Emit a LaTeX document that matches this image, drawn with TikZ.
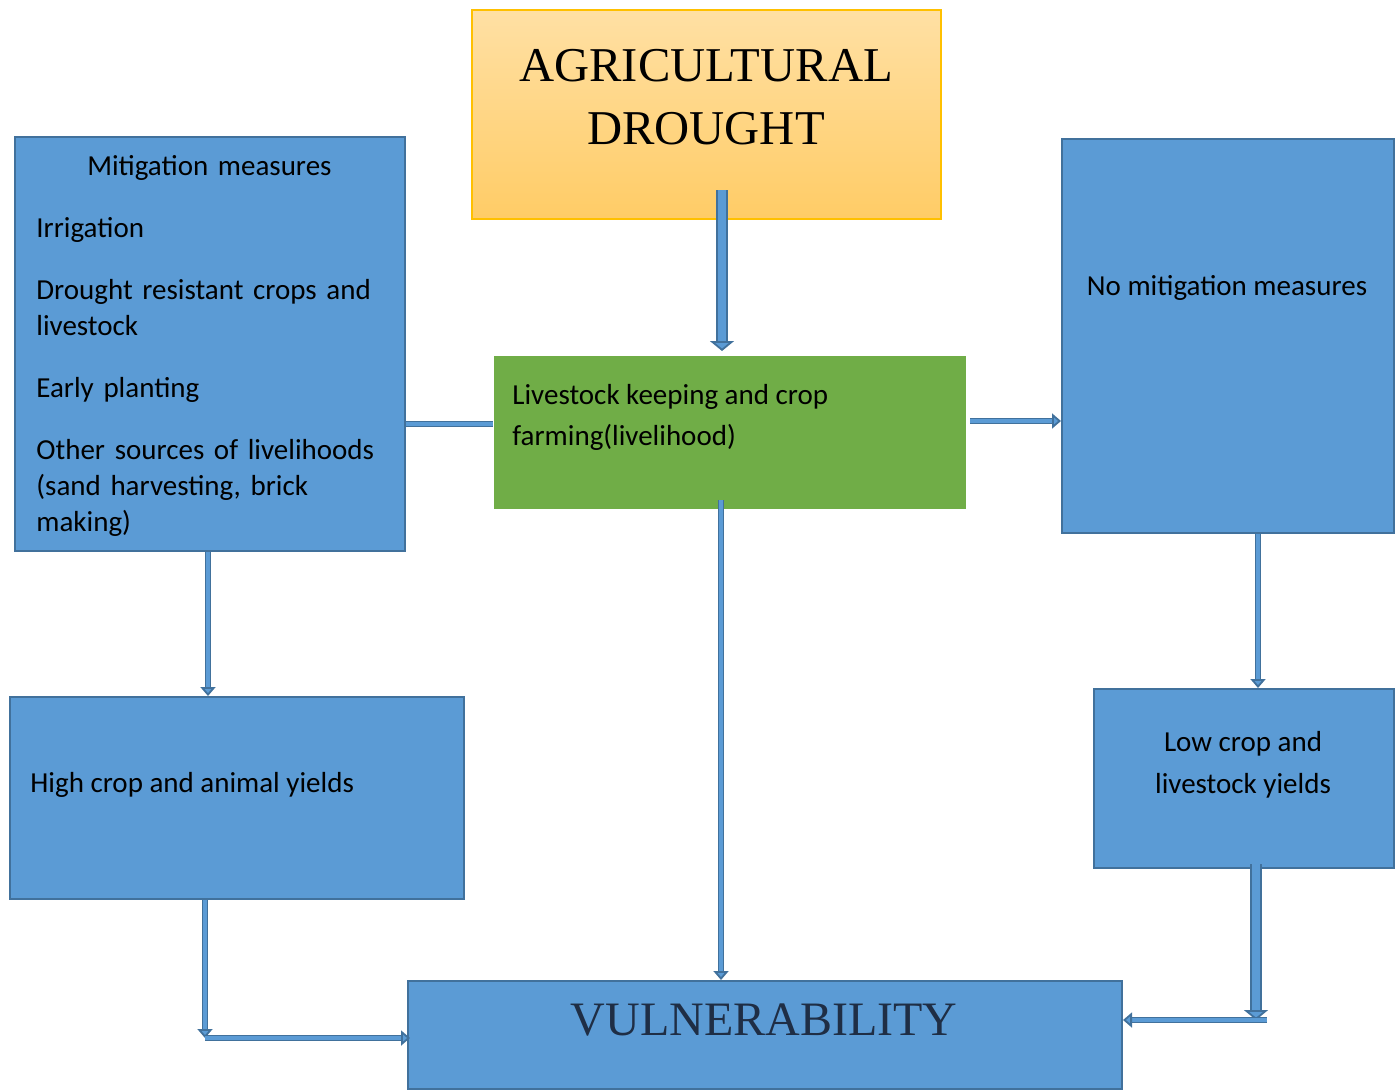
\documentclass[tikz,border=0pt]{standalone}
\usepackage{fontspec}
\setmainfont{Carlito}
\newfontfamily\headfont{Liberation Serif}
\usetikzlibrary{ % tikz packages
    positioning,
    arrows.meta,calc
}
\definecolor{boxblue}{HTML}{5B9BD5}
\definecolor{edgeblue}{HTML}{41719C}
\definecolor{farmgreen}{HTML}{70AD47}
\definecolor{droughttop}{HTML}{FFE0A4}
\definecolor{droughtbot}{HTML}{FFCC66}
\definecolor{droughtedge}{HTML}{FFC000}
\definecolor{headtext}{HTML}{1F2E45}
\tikzset{box/.style={
    draw=edgeblue, fill=boxblue, line width=1pt,
    anchor=north west, inner sep=0pt
}}
\tikzset{txt/.style={
    font=\fontsize{14.5}{18}\selectfont,
    inner sep=0pt, align=left
}}
\tikzset{flow/.style={
    draw=edgeblue, line width=0.9pt,
    double=boxblue, double distance=1.6pt,
    -{Triangle[width=7.5pt,length=4.5pt,fill=boxblue]}
}}
\tikzset{bigflow/.style={
    flow, double distance=4pt,
    -{Triangle[width=12pt,length=5pt,fill=boxblue]}
}}

\begin{document}
\begin{tikzpicture}[x=0.5pt,y=-0.5pt]
        \useasboundingbox (0,0) rectangle (1400,1089);

        % boxes
        \node[box, draw=droughtedge, top color=droughttop, bottom color=droughtbot,
              minimum width=234.5pt, minimum height=104.5pt] (drought) at (471,9) {};
        \node[box, minimum width=195pt, minimum height=207pt] (mitig) at (14,136) {};
        \node[box, draw=none, fill=farmgreen,
              minimum width=236pt, minimum height=76.5pt] (farm) at (493,355) {};
        \node[box, minimum width=166pt, minimum height=197pt] (nomit) at (1061,138) {};
        \node[box, minimum width=227pt, minimum height=101pt] (high) at (9,696) {};
        \node[box, minimum width=150pt, minimum height=89.5pt] (low) at (1093,688) {};
        \node[box, minimum width=357pt, minimum height=54pt] (vuln) at (407,980) {};

        % texts
        \node[font=\headfont\fontsize{24.3}{31.5}\selectfont, align=center] (droughttxt)
            at (706,97) {AGRICULTURAL\\DROUGHT};
        \node[txt, text width=173pt, anchor=north west] (mitigtxt) at (36,155)
            {\makebox[\linewidth]{Mitigation measures}\\[13pt]
             Irrigation\\[13pt]
             Drought resistant crops and\\
             livestock\\[13pt]
             Early planting\\[13pt]
             Other sources of livelihoods\\
             (sand harvesting, brick\\
             making)};
        \node[txt, font=\fontsize{14.5}{20.5}\selectfont, anchor=north west] (farmtxt)
            at (512,384) {Livestock keeping and crop\\farming(livelihood)};
        \node[txt] (nomittxt) at (1227,288) {No mitigation measures};
        \node[txt, font=\fontsize{14.5}{21}\selectfont, align=center] (lowtxt)
            at (1243,765) {Low crop and\\livestock yields};
        \node[txt, anchor=west] (hightxt) at (30,785) {High crop and animal yields};
        \node[font=\headfont\fontsize{24}{28}\selectfont, text=headtext, inner sep=0pt] (vulntxt)
            at (764,1020) {VULNERABILITY};

        % connectors
        \coordinate (dtop) at (722,190);
        \coordinate (rowL) at (0,424);
        \coordinate (rowR) at (0,421);
        \coordinate (colG) at (721,0);
        \coordinate (colM) at (208,0);
        \coordinate (colN) at (1258,0);
        \coordinate (colH) at (205,0);
        \coordinate (colL) at (1256,0);
        \coordinate (hcorner) at (205,1038);
        \coordinate (lcorner) at (1256,1020);
        \coordinate (lend) at (1267,1020);

        \draw[bigflow, shorten >=2pt] (dtop) -- (dtop |- farm.north);
        \draw[flow, -] (mitig.east |- rowL) -- (farm.west |- rowL);
        \draw[flow] ([xshift=1.5pt]farm.east |- rowR) -- (nomit.west |- rowR);
        \draw[flow] (colM |- mitig.south) -- (colM |- high.north);
        \draw[flow] (colN |- nomit.south) -- (colN |- low.north);
        \draw[flow] ([yshift=5pt]colG |- farm.south) -- (colG |- vuln.north);
        \draw[flow] (colH |- high.south) -- (hcorner);
        \draw[flow] (hcorner) -- ([xshift=1.5pt]vuln.west |- hcorner);
        \draw[bigflow] ([yshift=2.5pt]colL |- low.south) -- (lcorner);
        \draw[flow] (lend) -- (vuln.east |- lend);
    \end{tikzpicture}
\end{document}
